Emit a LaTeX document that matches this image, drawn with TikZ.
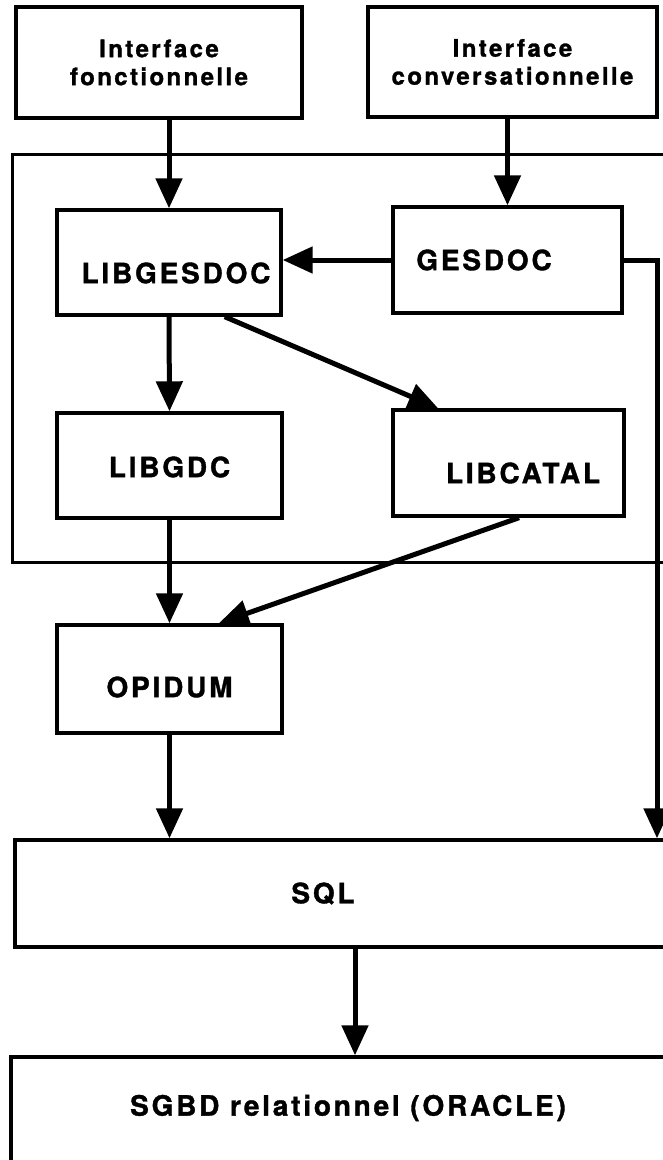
\documentclass[tikz,border=0pt]{standalone}
\usepackage{fontspec}
\newfontfamily\labfont[LetterSpace=10,BoldFeatures={FakeBold=1.3}]{TeX Gyre Heros}
\usetikzlibrary{arrows.meta,calc}
\begin{document}
\begin{tikzpicture}[x=1pt,y=-1pt,
  box/.style={draw,line width=3.4pt,rectangle,inner sep=0pt,minimum width=#1},
  lab/.style={font=\labfont\bfseries\fontsize{28}{30}\selectfont,inner sep=0pt},
  smalllab/.style={font=\labfont\bfseries\fontsize{24}{28}\selectfont,inner sep=0pt,align=center},
  arr/.style={line width=5pt,-{Triangle[length=30pt,width=26pt]}},
  plain/.style={line width=5pt}]
\useasboundingbox (0,0) rectangle (663,1160);
\clip (0,0) rectangle (663,1160);
\fill[white] (0,0) rectangle (663,1160);
% container
\draw[line width=3pt] (12,154) rectangle (720,562);
% boxes
\node[box=286pt,minimum height=111pt,label={[smalllab]center:Interface\\fonctionnelle}] (b1) at (159,62.5) {};
\node[box=289pt,minimum height=110pt,label={[smalllab]center:Interface\\conversationnelle}] (b2) at (512.5,62) {};
\node[box=224pt,minimum height=105pt,label={[lab,xshift=7pt,yshift=-10.5pt]center:LIBGESDOC}] (lib) at (169,262.5) {};
\node[box=229pt,minimum height=106pt,label={[lab,xshift=-23.5pt]center:GESDOC}] (ges) at (507.5,260) {};
\node[box=225pt,minimum height=105pt,label={[lab,yshift=-1.5pt]center:LIBGDC}] (gdc) at (169.5,465.5) {};
\node[box=231pt,minimum height=106pt,label={[lab,xshift=14.5pt,yshift=-10pt]center:LIBCATAL}] (cat) at (508.5,463) {};
\node[box=225pt,minimum height=108pt,label={[lab,yshift=-8pt]center:OPIDUM}] (opi) at (169.5,679) {};
\node[box=705pt,minimum height=107pt,label={[lab,xshift=-44.5pt]center:SQL}] (sql) at (367.5,893.5) {};
\node[box=709pt,minimum height=163pt,label={[lab,xshift=-17.5pt,yshift=30.5pt]center:SGBD relationnel (ORACLE)}] (sgbd) at (365.5,1138.5) {};
% helper coordinates
\coordinate (rt) at (657,0);
\coordinate (mid) at (355,0);
% connectors
\draw[arr] (b1.south -| lib.north) -- (lib.north);
\draw[arr] (b2.south -| ges.north) -- (ges.north);
\draw[arr] (ges.west) -- (ges.west -| lib.east);
\draw[arr] (ges.east) -| (rt |- sql.north);
\draw[arr] (lib.south) -- (gdc.north);
\draw[arr] ($(lib.south west)!0.745!(lib.south east)$) -- ($(cat.north west)!0.2!(cat.north east)$);
\draw[arr] (gdc.south) -- (opi.north);
\draw[arr] ($(cat.south west)!0.545!(cat.south east)$) -- ($(opi.north west)!0.716!(opi.north east)$);
\draw[arr] (opi.south) -- (opi.south |- sql.north);
\draw[arr] (mid |- sql.south) -- (mid |- sgbd.north);
\end{tikzpicture}
\end{document}
